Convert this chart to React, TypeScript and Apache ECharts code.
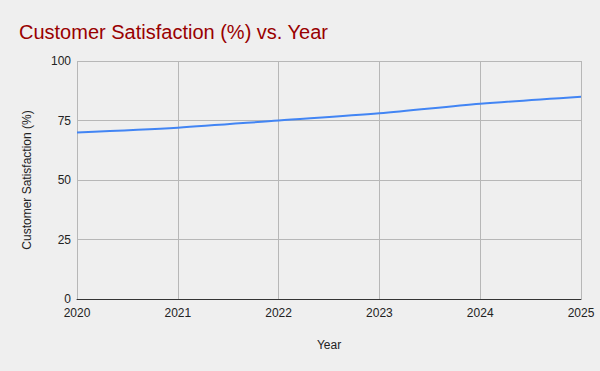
import React, { useEffect, useRef } from "react";
import * as echarts from "echarts";

const years = [2020, 2021, 2022, 2023, 2024, 2025];
const satisfaction = [70, 72, 75, 78, 82, 85];
const title = "Customer Satisfaction (%) vs. Year";
const xName = "Year";
const yName = "Customer Satisfaction (%)";

export default function App() {
  const ref = useRef<HTMLDivElement>(null);
  useEffect(() => {
    const chart = echarts.init(ref.current!, null, { renderer: "svg" });
    const font = "'Liberation Sans', Arial, sans-serif";
    chart.setOption({
      animation: false,
      backgroundColor: "#efefef",
      title: {
        text: title,
        left: 14,
        top: 17,
        textStyle: { color: "#990000", fontSize: 20, fontWeight: "normal", fontFamily: font },
      },
      grid: { left: 77, right: 19, top: 61, bottom: 72, containLabel: false },
      xAxis: {
        type: "value",
        min: 2020,
        max: 2025,
        interval: 1,
        name: xName,
        nameLocation: "middle",
        nameGap: 40,
        nameTextStyle: { color: "#222", fontSize: 12, fontFamily: font },
        axisLine: { show: true, lineStyle: { color: "#333", width: 1 } },
        axisTick: { show: false },
        axisLabel: { color: "#222", fontSize: 12, fontFamily: font, margin: 8, formatter: (v: number) => String(v) },
        splitLine: { show: true, lineStyle: { color: "#b7b7b7", width: 1 } },
      },
      yAxis: {
        type: "value",
        min: 0,
        max: 100,
        interval: 25,
        name: yName,
        nameLocation: "middle",
        nameGap: 44,
        nameTextStyle: { color: "#222", fontSize: 12, fontFamily: font },
        axisLine: { show: false },
        axisTick: { show: false },
        axisLabel: { color: "#222", fontSize: 12, fontFamily: font, margin: 6 },
        splitLine: { show: true, lineStyle: { color: "#b7b7b7", width: 1 } },
      },
      series: [
        {
          type: "line",
          data: years.map((y, i) => [y, satisfaction[i]]),
          smooth: 0.3,
          showSymbol: false,
          lineStyle: { color: "#4285f4", width: 2 },
          itemStyle: { color: "#4285f4" },
        },
      ],
    });
    return () => chart.dispose();
  }, []);
  return <div ref={ref} style={{ width: 600, height: 371, position: "absolute", left: 0, top: 0 }} />;
}
